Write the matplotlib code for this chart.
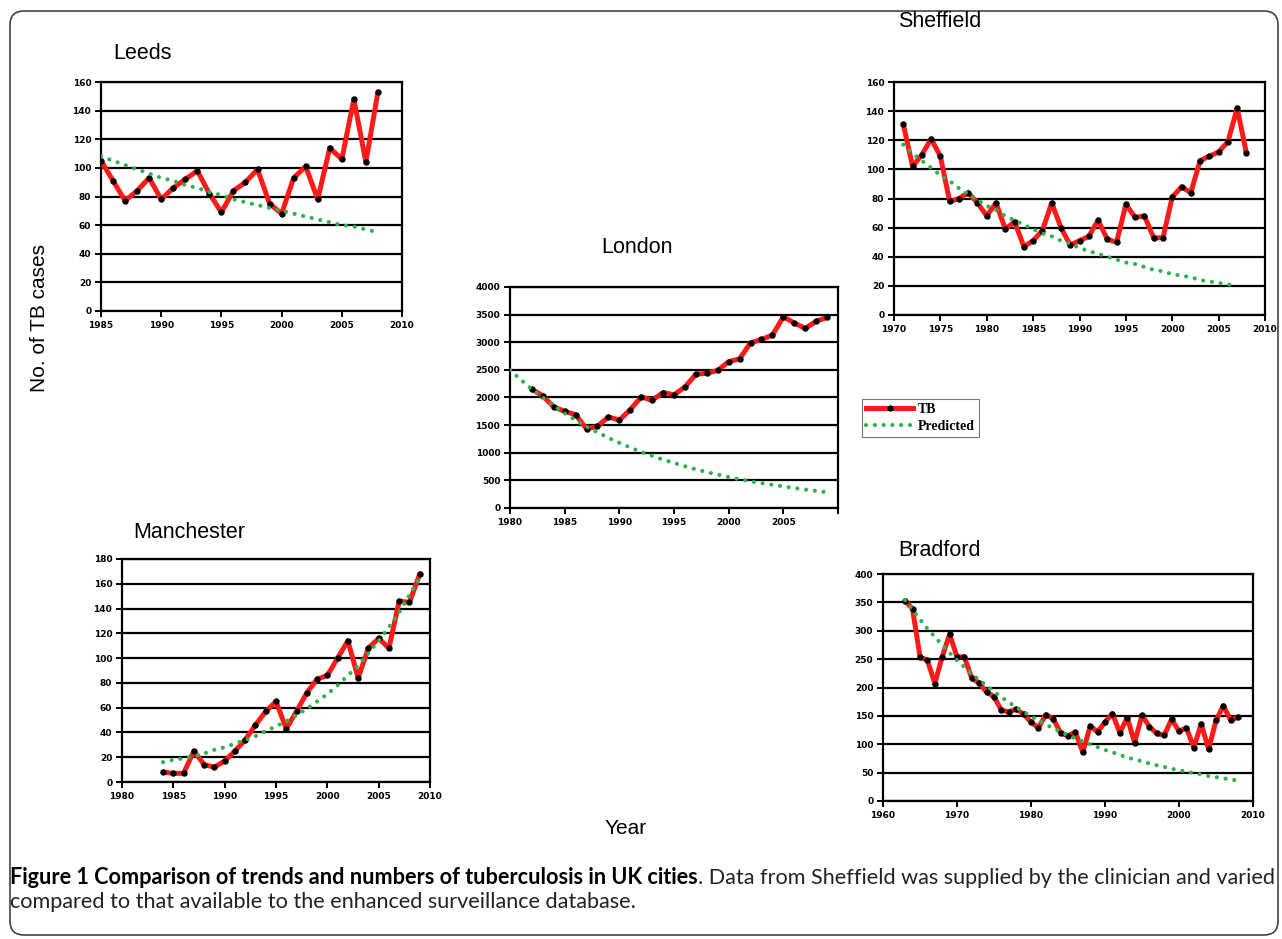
import matplotlib
matplotlib.use("Agg")
import matplotlib.pyplot as plt
from matplotlib.patches import FancyBboxPatch
from matplotlib.lines import Line2D

W, H = 1282, 939

# ---- data ----
leeds_years = list(range(1985, 2009))
leeds_tb = [105, 91, 77, 84, 93, 78, 86, 92, 98, 82, 69, 84, 90, 99, 75,
            68, 93, 101, 78, 114, 106, 148, 104, 153]
leeds_pred = [108, 105, 102, 99, 96, 93, 91, 88, 86, 83, 81, 78, 76, 74, 72,
              70, 68, 66, 64, 62, 60, 59, 57, 55]

sheff_years = list(range(1971, 2009))
sheff_tb = [131, 102, 110, 121, 109, 78, 80, 84, 77, 68, 77, 59, 64, 47, 51,
            58, 77, 60, 48, 51, 54, 65, 52, 50, 76, 67, 68, 53, 53, 81,
            88, 84, 106, 109, 112, 119, 142, 111]
sheff_pred_years = list(range(1971, 2008))
sheff_pred = [117, 111, 106, 101, 96, 92, 87, 83, 79, 75, 72, 68, 65, 62, 59,
              56, 54, 51, 49, 46, 44, 42, 40, 38, 36, 35, 33, 31, 30, 28,
              27, 26, 24, 23, 22, 21, 20]

london_years = list(range(1982, 2010))
london_tb = [2150, 2030, 1830, 1750, 1690, 1430, 1480, 1650, 1590, 1780,
             2010, 1950, 2090, 2050, 2190, 2420, 2440, 2490, 2650, 2700,
             2990, 3050, 3130, 3460, 3350, 3250, 3380, 3450]
london_pred_years = list(range(1980, 2010))
london_pred = [2500, 2320, 2150, 2000, 1850, 1715, 1590, 1470, 1370, 1270,
               1180, 1095, 1015, 945, 875, 815, 755, 700, 650, 605,
               560, 520, 485, 450, 420, 390, 360, 335, 310, 285]

manch_years = list(range(1984, 2010))
manch_tb = [8, 7, 7, 25, 14, 12, 17, 25, 34, 46, 57, 65, 43, 57, 72,
            83, 86, 100, 114, 84, 108, 116, 108, 146, 145, 168]
manch_pred = [16, 18, 19, 21, 23, 26, 28, 31, 34, 37, 41, 45, 49, 54, 59,
              65, 71, 78, 86, 94, 104, 114, 125, 137, 151, 165]

brad_years = list(range(1963, 2009))
brad_tb = [353, 338, 254, 248, 207, 254, 294, 254, 254, 216,
           208, 192, 184, 160, 157, 162, 153, 139, 129, 152,
           145, 120, 115, 121, 86, 132, 122, 139, 154, 120,
           147, 103, 151, 131, 119, 116, 144, 123, 129, 94,
           136, 91, 142, 168, 142, 148]
brad_pred = [354, 337, 320, 304, 289, 275, 261, 248, 236, 224,
             213, 203, 193, 183, 174, 165, 157, 149, 142, 135,
             128, 122, 116, 110, 105, 100, 95, 90, 86, 81,
             77, 73, 70, 66, 63, 60, 57, 54, 52, 49,
             47, 44, 42, 40, 38, 36]

RED = "#ff1a1a"
GREEN = "#2db24f"

fig = plt.figure(figsize=(W / 100, H / 100), dpi=100)
fig.patch.set_facecolor("white")

# background axes in pixel coordinates for frame / free text
bg = fig.add_axes([0, 0, 1, 1], zorder=-5)
bg.set_xlim(0, W)
bg.set_ylim(H, 0)
bg.axis("off")
bg.add_patch(FancyBboxPatch((10, 11), 1268, 924,
                            boxstyle="round,pad=0,rounding_size=14",
                            fc="white", ec="#444444", lw=1.2))


def panel(box, years, tb, pyears, pred, xlim, xticks, xlabels,
          ylim, yticks, title, title_xy):
    l, t, r, b = box
    ax = fig.add_axes([l / W, 1 - b / H, (r - l) / W, (b - t) / H])
    ax.plot(years, tb, color=RED, lw=3.6, zorder=3, solid_joinstyle="round",
            solid_capstyle="round")
    ax.plot(years, tb, ls="none", marker="o", ms=3.6, color="black", zorder=4)
    ax.plot(pyears, pred, color=GREEN, lw=3.0, ls=(0, (0.01, 2.1)),
            dash_capstyle="round", zorder=5)
    ax.set_xlim(*xlim)
    ax.set_ylim(*ylim)
    ax.set_xticks(xticks)
    ax.set_xticklabels(xlabels)
    ax.set_yticks(yticks)
    ax.yaxis.grid(True, color="black", lw=1.6)
    ax.set_axisbelow(True)
    for s in ax.spines.values():
        s.set_color("black")
        s.set_linewidth(1.6)
    ax.tick_params(direction="out", length=4, width=1.4, pad=3,
                   labelsize=6.5)
    for lab in ax.get_xticklabels() + ax.get_yticklabels():
        lab.set_fontweight("heavy")
    bg.text(title_xy[0], title_xy[1], title, fontsize=15.5,
            family="Liberation Sans", ha="left", va="baseline")
    return ax


panel((101, 82, 402, 311), leeds_years, leeds_tb, leeds_years, leeds_pred,
      (1985, 2010), range(1985, 2011, 5), [str(v) for v in range(1985, 2011, 5)],
      (0, 160), range(0, 161, 20), "Leeds", (113, 59))

panel((894, 82, 1265, 315), sheff_years, sheff_tb, sheff_pred_years, sheff_pred,
      (1970, 2010), range(1970, 2011, 5), [str(v) for v in range(1970, 2011, 5)],
      (0, 160), range(0, 161, 20), "Sheffield", (898, 27))

london_xlabels = [str(v) for v in range(1980, 2006, 5)] + [""]
panel((510, 287, 838, 508), london_years, london_tb, london_pred_years, london_pred,
      (1980, 2010), range(1980, 2011, 5), london_xlabels,
      (0, 4000), range(0, 4001, 500), "London", (601, 253))

panel((122, 559, 430, 782), manch_years, manch_tb, manch_years, manch_pred,
      (1980, 2010), range(1980, 2011, 5), [str(v) for v in range(1980, 2011, 5)],
      (0, 180), range(0, 181, 20), "Manchester", (133, 538))

panel((883, 574, 1253, 801), brad_years, brad_tb, brad_years, brad_pred,
      (1960, 2010), range(1960, 2011, 10), [str(v) for v in range(1960, 2011, 10)],
      (0, 400), range(0, 401, 50), "Bradford", (898, 556))

# axis titles shared by the panels
bg.text(40, 318, "No. of TB cases", rotation=90, fontsize=15,
        family="Liberation Sans", ha="center", va="center")
bg.text(626, 828, "Year", fontsize=15, family="Liberation Sans",
        ha="center", va="center")

# legend
handles = [Line2D([], [], color=RED, lw=3.6, marker="o", ms=3.6,
                  mfc="black", mec="black"),
           Line2D([], [], color=GREEN, lw=3.0, ls=(0, (0.01, 2.1)),
                  dash_capstyle="round")]
leg = fig.legend(handles, ["TB", "Predicted"], loc="upper left",
                 bbox_to_anchor=(855 / W, 1 - 392 / H), frameon=True,
                 fancybox=False, edgecolor="#555555", handlelength=3.4,
                 handletextpad=0.3, borderpad=0.3, labelspacing=0.25,
                 prop={"family": "Liberation Serif", "weight": "bold", "size": 10})
leg.get_frame().set_linewidth(0.8)

# caption
cap_bold = "Figure 1 Comparison of trends and numbers of tuberculosis in UK cities"
cap_rest = ". Data from Sheffield was supplied by the clinician and varied"
cap_line2 = "compared to that available to the enhanced surveillance database."
cap_font = "Lato"
size = 12.5
fig.canvas.draw()
renderer = fig.canvas.get_renderer()
for _ in range(2):
    t1 = bg.text(10, 884, cap_bold, fontsize=size, family=cap_font,
                 weight="bold", ha="left", va="baseline")
    t2 = bg.text(10, 884, cap_rest, fontsize=size, family=cap_font,
                 ha="left", va="baseline")
    w1 = t1.get_window_extent(renderer).width
    w2 = t2.get_window_extent(renderer).width
    t1.remove()
    t2.remove()
    size = size * 1264 / (w1 + w2)

t1 = bg.text(10, 884, cap_bold, fontsize=size, family=cap_font,
             weight="bold", ha="left", va="baseline")
w1 = t1.get_window_extent(renderer).width
bg.text(10 + w1, 884, cap_rest, fontsize=size, family=cap_font,
        ha="left", va="baseline", color="#222222")
bg.text(10, 908, cap_line2, fontsize=size, family=cap_font,
        ha="left", va="baseline", color="#222222")

fig.savefig("out.png", dpi=100)
